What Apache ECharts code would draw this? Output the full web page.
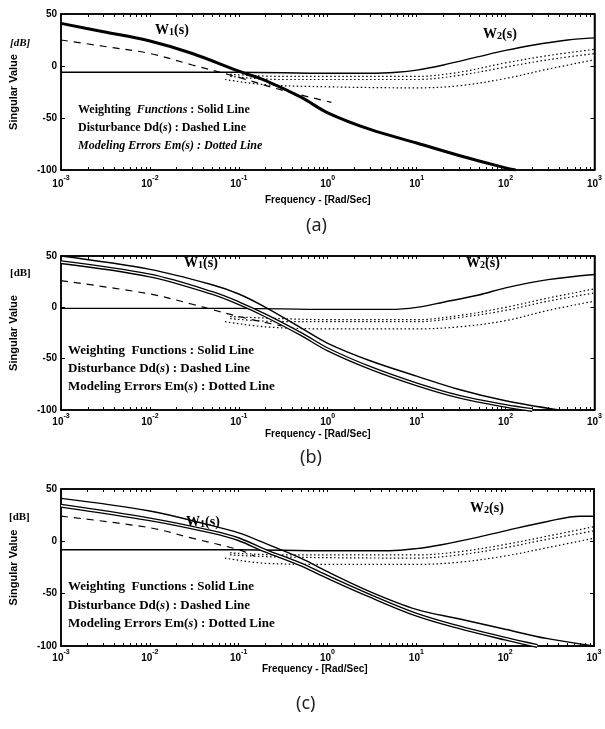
<!DOCTYPE html>
<html>
<head>
<meta charset="utf-8">
<script src="https://cdn.jsdelivr.net/npm/echarts@6/dist/echarts.min.js"></script>
<style>
  html, body { margin: 0; padding: 0; background: #fff; }
  #main { width: 605px; height: 729px; }
</style>
</head>
<body>
<div id="main"></div>
<script>
// tick labels
const xTickExps = [-3, -2, -1, 0, 1, 2, 3];
const yTicks = [50, 0, -50, -100];

// panel (a): [frequency rad/s, dB]
const aW1 = [[0.001,41],[0.003,33],[0.01,24],[0.03,12],[0.1,-5],[0.2,-14],[0.5,-30],[1,-45],[3,-61],[10,-74],[30,-86],[100,-98],[130,-100]];
const aW2 = [[0.001,-6],[0.01,-6],[0.1,-6],[1,-7],[3,-7],[6,-6],[10,-4],[20,1],[50,9],[100,15],[200,20],[500,25],[1000,27]];
const aDd = [[0.001,25],[0.003,19],[0.01,12],[0.03,1],[0.1,-11],[0.3,-23],[1.1,-35]];
const aEm1 = [[0.08,-8],[0.3,-10],[1,-10],[10,-10],[30,-6],[100,3],[300,10],[1000,16]];
const aEm2 = [[0.08,-10],[0.3,-13],[1,-13],[10,-13],[30,-9],[100,-1],[300,6],[1000,12]];
const aEm3 = [[0.07,-13],[0.2,-18],[1,-20],[10,-21],[30,-19],[100,-12],[300,-3],[1000,6]];

// panel (b)
const bW1 = [[0.001,50],[0.01,37],[0.05,22],[0.1,13],[0.2,0],[0.5,-20],[1,-35],[3,-52],[10,-67],[30,-80],[100,-91],[400,-100]];
const bW1d = [[0.001,44],[0.01,31],[0.05,14],[0.1,4],[0.2,-8],[0.5,-26],[1,-41],[3,-59],[10,-75],[30,-87],[100,-96],[200,-100]];
const bW2 = [[0.001,-1],[0.1,-1],[1,-2],[5,-2],[10,0],[20,5],[50,12],[100,19],[300,27],[1000,32]];
const bDd = [[0.001,26],[0.01,13],[0.03,3],[0.1,-9],[0.3,-18]];
const bEm1 = [[0.08,-9],[0.3,-11],[1,-12],[10,-12],[30,-8],[100,0],[300,9],[1000,18]];
const bEm2 = [[0.08,-11],[0.3,-14],[1,-14],[10,-14],[30,-10],[100,-3],[300,6],[1000,14]];
const bEm3 = [[0.07,-14],[0.2,-19],[1,-21],[10,-21],[30,-19],[100,-13],[300,-3],[1000,6]];

// panel (c)
const cW1 = [[0.001,41],[0.01,29],[0.05,15],[0.1,8],[0.2,-2],[0.5,-16],[1,-29],[3,-48],[10,-65],[30,-74],[100,-84],[300,-93],[1000,-100]];
const cW1d = [[0.001,34],[0.01,21],[0.05,9],[0.1,2],[0.2,-9],[0.5,-22],[1,-34],[3,-52],[10,-70],[30,-82],[100,-93],[230,-100]];
const cW2 = [[0.001,-8],[0.1,-8],[1,-9],[5,-9],[10,-7],[20,-3],[50,4],[100,10],[300,19],[700,24],[1000,24]];
const cDd = [[0.001,24],[0.01,13],[0.03,3],[0.1,-8],[0.15,-14]];
const cEm1 = [[0.08,-11],[0.3,-13],[10,-13],[30,-10],[100,-3],[300,5],[1000,14]];
const cEm2 = [[0.08,-13],[0.3,-15],[10,-16],[30,-13],[100,-6],[300,2],[1000,10]];
const cEm3 = [[0.07,-16],[0.2,-21],[1,-22],[10,-22],[30,-20],[100,-14],[300,-6],[1000,3]];

const grids = [
  { left: 59, right: 8, top: 14, height: 156 },
  { left: 56, right: 9, top: 256, height: 154 },
  { left: 53, right: 11, top: 489, height: 157 }
];
const labelMargins = [5, 3, 3];

// log-spaced small ticks (1..9 x 10^k) along top and bottom edges
const logTicks = [];
xTickExps.forEach(function (k) {
  for (let m = 1; m <= 9; m++) {
    if (k === 3 && m > 1) break;
    logTicks.push(m * Math.pow(10, k));
  }
});

const tickFont = { fontFamily: 'Liberation Sans', fontWeight: 'bold', color: '#000' };

function xAxesFor(gi) {
  const base = {
    type: 'log', logBase: 10, min: 0.001, max: 1000, splitNumber: 6, gridIndex: gi,
    axisLine: { onZero: false, lineStyle: { color: '#000', width: 1.5 } },
    axisTick: { inside: true, length: 3, customValues: logTicks, lineStyle: { color: '#000', width: 1 } },
    splitLine: { show: false }
  };
  return [
    Object.assign({}, base, {
      position: 'bottom',
      axisLabel: {
        margin: labelMargins[gi],
        formatter: function (v) {
          const e = xTickExps.find(function (k) { return Math.abs(Math.pow(10, k) - v) < v * 1e-6; });
          return '{b|10}{e|' + e + '}';
        },
        rich: {
          b: Object.assign({ fontSize: 10, lineHeight: 14, verticalAlign: 'bottom' }, tickFont),
          e: Object.assign({ fontSize: 7, lineHeight: 14, verticalAlign: 'top' }, tickFont)
        }
      }
    }),
    Object.assign({}, base, { position: 'top', axisLabel: { show: false } })
  ];
}

function yAxesFor(gi) {
  const base = {
    type: 'value', min: -100, max: 50, interval: 50, gridIndex: gi,
    axisLine: { onZero: false, lineStyle: { color: '#000', width: 1.5 } },
    axisTick: { inside: true, length: 4, lineStyle: { color: '#000' } },
    splitLine: { show: false }
  };
  return [
    Object.assign({}, base, {
      position: 'left',
      name: 'Singular Value', nameLocation: 'middle', nameGap: 42, nameRotate: 90,
      nameTextStyle: Object.assign({ fontSize: 11 }, tickFont),
      axisLabel: Object.assign({ fontSize: 10, margin: 4,
        formatter: function (v) { return yTicks.indexOf(v) >= 0 ? String(v) : ''; } }, tickFont)
    }),
    Object.assign({}, base, { position: 'right', axisLabel: { show: false } })
  ];
}

function line(gi, data, style, z) {
  return {
    type: 'line', xAxisIndex: gi * 2, yAxisIndex: gi * 2, data: data,
    showSymbol: false, symbol: 'none', smooth: 0.35, z: z || 2, silent: true,
    lineStyle: Object.assign({ color: '#000', width: 1.3 }, style),
    clip: true
  };
}

const solid = { width: 1.4 };
const thick = { width: 3 };
const dashed = { width: 1.2, type: [7, 6] };
const dotted = { width: 1.2, type: [1.5, 2.5] };

function doubleLine(gi, data) {
  return [line(gi, data, { width: 4 }, 3), line(gi, data, { width: 1.3, color: '#fff' }, 4)];
}

const series = [
  line(0, aW2, solid), line(0, aW1, thick, 3), line(0, aDd, dashed),
  line(0, aEm1, dotted), line(0, aEm2, dotted), line(0, aEm3, dotted),

  line(1, bW2, solid), line(1, bW1, solid), line(1, bDd, dashed),
  line(1, bEm1, dotted), line(1, bEm2, dotted), line(1, bEm3, dotted)
].concat(doubleLine(1, bW1d)).concat([
  line(2, cW2, solid), line(2, cW1, solid), line(2, cDd, dashed),
  line(2, cEm1, dotted), line(2, cEm2, dotted), line(2, cEm3, dotted)
]).concat(doubleLine(2, cW1d));

const serif = 'Liberation Serif';
function wLabel(x, y, n, size) {
  return {
    type: 'text', left: x, top: y - size / 2 - 2, z: 10,
    style: {
      text: '{w|W}{n|' + n + '}{w|(s)}',
      rich: {
        w: { fontFamily: serif, fontWeight: 'bold', fontSize: size, fill: '#000', verticalAlign: 'bottom', lineHeight: size + 6 },
        n: { fontFamily: serif, fontWeight: 'bold', fontSize: size * 0.72, fill: '#000', verticalAlign: 'bottom', lineHeight: size + 2 }
      }
    }
  };
}

function legendRows(x, ys, size, rows) {
  return rows.map(function (r, i) {
    return {
      type: 'text', left: x, top: ys[i] - size / 2 - 1, z: 10,
      style: {
        text: r,
        rich: {
          n: { fontFamily: serif, fontWeight: 'bold', fontSize: size, fill: '#000' },
          i: { fontFamily: serif, fontWeight: 'bold', fontStyle: 'italic', fontSize: size, fill: '#000' }
        }
      }
    };
  });
}

function plain(text, x, y, font, color) {
  return {
    type: 'text', left: x, top: y, z: 10,
    style: { text: text, font: font, fill: color || '#000' }
  };
}

const graphic = [].concat(
  [
    wLabel(155, 32, '1', 14), wLabel(483, 36, '2', 14),
    wLabel(184, 265, '1', 14), wLabel(466, 265, '2', 14),
    wLabel(186, 524, '1', 14), wLabel(470, 510, '2', 14)
  ],
  legendRows(78, [111, 129, 147], 12, [
    '{n|Weighting  }{i|Functions}{n| : Solid Line}',
    '{n|Disturbance Dd(}{i|s}{n|) : Dashed Line}',
    '{i|Modeling Errors Em(s) : Dotted Line}'
  ]),
  legendRows(68, [352, 370, 388], 13, [
    '{n|Weighting  Functions : Solid Line}',
    '{n|Disturbance Dd(}{i|s}{n|) : Dashed Line}',
    '{n|Modeling Errors Em(}{i|s}{n|) : Dotted Line}'
  ]),
  legendRows(68, [588, 607, 625], 13, [
    '{n|Weighting  Functions : Solid Line}',
    '{n|Disturbance Dd(}{i|s}{n|) : Dashed Line}',
    '{n|Modeling Errors Em(}{i|s}{n|) : Dotted Line}'
  ]),
  [
    plain('[dB]', 10, 38, 'italic bold 11px "Liberation Serif"'),
    plain('[dB]', 10, 268, 'bold 11px "Liberation Serif"'),
    plain('[dB]', 9, 512, 'bold 11px "Liberation Serif"'),
    plain('Frequency - [Rad/Sec]', 265, 195, 'bold 10px "Liberation Sans"'),
    plain('Frequency - [Rad/Sec]', 265, 429, 'bold 10px "Liberation Sans"'),
    plain('Frequency - [Rad/Sec]', 262, 664, 'bold 10px "Liberation Sans"'),
    plain('(a)', 306, 217, '18px "Noto Sans"', '#222'),
    plain('(b)', 300, 449, '18px "Noto Sans"', '#222'),
    plain('(c)', 296, 695, '18px "Noto Sans"', '#222')
  ]
);

const chart = echarts.init(document.getElementById('main'), null, { renderer: 'canvas' });
chart.setOption({
  animation: false,
  backgroundColor: '#fff',
  grid: grids.map(function (g) {
    return Object.assign({ show: true, borderColor: '#000', borderWidth: 1.5, backgroundColor: 'transparent' }, g);
  }),
  xAxis: [].concat(xAxesFor(0), xAxesFor(1), xAxesFor(2)),
  yAxis: [].concat(yAxesFor(0), yAxesFor(1), yAxesFor(2)),
  series: series,
  graphic: graphic
});
</script>
</body>
</html>
